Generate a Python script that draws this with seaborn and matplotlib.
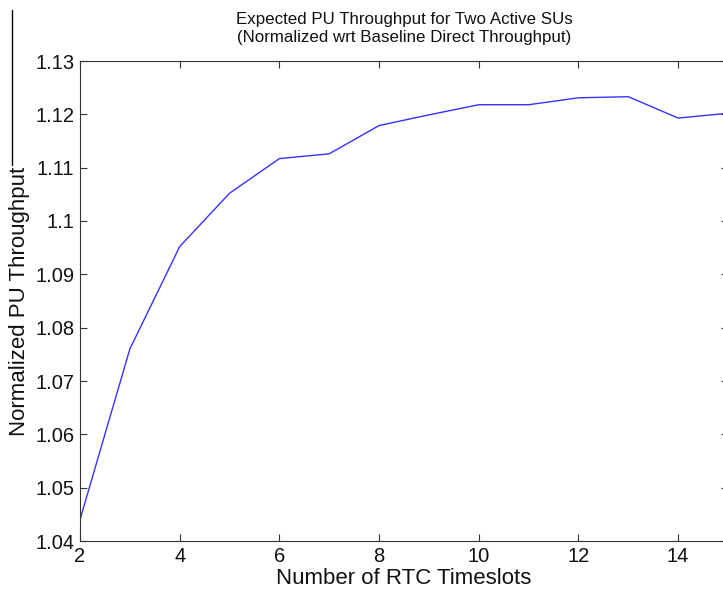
import matplotlib
matplotlib.use("Agg")
import matplotlib.pyplot as plt
import seaborn as sns
import pandas as pd
from matplotlib.lines import Line2D

timeslots = [2, 3, 4, 5, 6, 7, 8, 9, 10, 11, 12, 13, 14, 15]
throughput = [1.0440, 1.0760, 1.0952, 1.1052, 1.1117, 1.1126, 1.1179, 1.1199,
              1.1218, 1.1218, 1.1231, 1.1233, 1.1193, 1.1202]
xticks = [2, 4, 6, 8, 10, 12, 14]
yticks = [1.04, 1.05, 1.06, 1.07, 1.08, 1.09, 1.10, 1.11, 1.12, 1.13]
ytick_labels = ["1.04", "1.05", "1.06", "1.07", "1.08", "1.09", "1.1", "1.11", "1.12", "1.13"]

df = pd.DataFrame({"x": timeslots, "y": throughput})

sns.set_style("ticks")
plt.rcParams["font.family"] = ["Liberation Sans", "DejaVu Sans"]

W, H = 723, 591
fig = plt.figure(figsize=(W / 100, H / 100), dpi=100)
ax = fig.add_axes([80 / W, (H - 541) / H, (728 - 80) / W, (541 - 61) / H])

sns.lineplot(data=df, x="x", y="y", ax=ax, color="#0000ff", linewidth=1.0, alpha=0.8)

ax.set_xlim(2, 15)
ax.set_ylim(1.04, 1.13)
ax.set_xticks(xticks)
ax.set_xticklabels([str(t) for t in xticks])
ax.set_yticks(yticks)
ax.set_yticklabels(ytick_labels)
ax.tick_params(axis="both", direction="in", length=5, width=0.8, color="#333333",
               labelsize=14.5, labelcolor="#111111", top=True, right=True, pad=4)
for s in ax.spines.values():
    s.set_visible(True)
    s.set_color("#333333")
    s.set_linewidth(0.8)

ax.set_xlabel("Number of RTC Timeslots", fontsize=16, labelpad=2, color="#111111")
ax.set_ylabel("Normalized PU Throughput", fontsize=16, labelpad=4, color="#111111")
ax.set_title("Expected PU Throughput for Two Active SUs\n(Normalized wrt Baseline Direct Throughput)",
             fontsize=12.2, pad=14, linespacing=1.25, color="#111111")

fig.add_artist(Line2D([12 / W, 12 / W], [1 - 10 / H, 1 - 165 / H], color="black", linewidth=1.0))

fig.savefig("out.png", dpi=100)
